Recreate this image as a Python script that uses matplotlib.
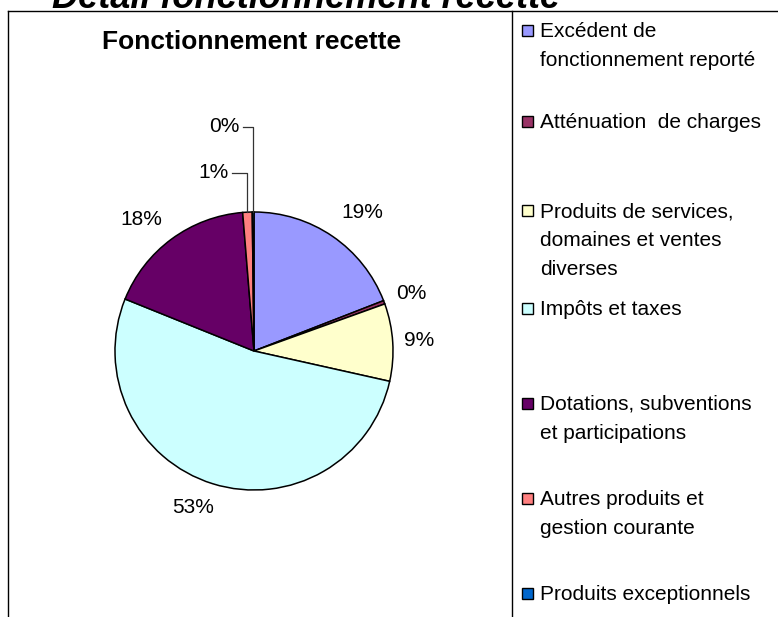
import numpy as np
import matplotlib.pyplot as plt
from matplotlib.patches import Rectangle
from matplotlib.lines import Line2D

plt.rcParams['font.family'] = ['Liberation Sans', 'DejaVu Sans']

# --- data
categories = ["Excédent de\nfonctionnement reporté",
              "Atténuation  de charges",
              "Produits de services,\ndomaines et ventes\ndiverses",
              "Impôts et taxes",
              "Dotations, subventions\net participations",
              "Autres produits et\ngestion courante",
              "Produits exceptionnels"]
shares = [19.1, 0.4, 9.0, 52.6, 17.6, 1.1, 0.2]
colors = ['#9999FF', '#993366', '#FFFFCC', '#CCFFFF', '#660066', '#FF8080', '#0066CC']

# figure is 778 x 617 px
W, H = 778, 617
fig = plt.figure(figsize=(W / 100, H / 100), dpi=100)

def fx(px):
    return px / W

def fy(py):
    return 1 - py / H

# pie centre (254, 351) px, radius 139 px
cx, cy, rad = 254, 351, 139
ax = fig.add_axes([fx(8), 0, fx(500) - fx(8), fy(12)])
wedges, _ = ax.pie(shares, colors=colors, startangle=90, counterclock=False,
                   wedgeprops=dict(edgecolor='black', linewidth=1.1))
ax.set_xlim((8 - cx) / rad, (500 - cx) / rad)
ax.set_ylim((cy - 617) / rad, (cy - 12) / rad)
ax.set_aspect('auto')
ax.axis('off')

pct = [int(s / sum(shares) * 100 + 0.5) for s in shares]

# label placement (data units, pie radius = 1)
label_pos = [(0.777, 1.0), (1.129, 0.417), (1.187, 0.079), (-0.439, -1.129),
             (-0.813, 0.946), None, None]
for i, p in enumerate(label_pos):
    if p is not None:
        ax.text(p[0], p[1], f"{pct[i]}%", ha='center', va='center', fontsize=15)

# small slices at the top: labels with leader lines
leader_pos = {5: (-0.180, 1.281), 6: (-0.101, 1.612)}
for i, (tx, ty) in leader_pos.items():
    w = wedges[i]
    th = np.deg2rad((w.theta1 + w.theta2) / 2)
    xm, ym = np.cos(th), np.sin(th)
    ax.text(tx, ty, f"{pct[i]}%", ha='right', va='center', fontsize=15)
    ax.plot([tx + 0.02, xm, xm], [ty, ty, ym], color='#333333', lw=0.9)

# chart titles (the big one is cut at the top edge, as in the original)
fig.text(fx(52), fy(8), "Détail fonctionnement recette", fontsize=26,
         fontweight='bold', fontstyle='italic', ha='left', va='baseline')
fig.text(fx(252), fy(49), "Fonctionnement recette", fontsize=19,
         fontweight='bold', ha='center', va='baseline')

# frame lines
fig.add_artist(Line2D([fx(8), fx(8)], [fy(11), 0], color='black', lw=1))
fig.add_artist(Line2D([fx(8), 1], [fy(11), fy(11)], color='black', lw=1))
fig.add_artist(Line2D([fx(512), fx(512)], [fy(11), 0], color='black', lw=1))

# legend
leg_base = [37, 128, 217, 315, 410, 505, 600]
line_step = 29
for i, lab in enumerate(categories):
    b = leg_base[i]
    fig.add_artist(Rectangle((fx(522), fy(b - 1)), 11 / W, 11 / H,
                             transform=fig.transFigure, facecolor=colors[i],
                             edgecolor='black', lw=1))
    for k, line in enumerate(lab.split('\n')):
        fig.text(fx(540), fy(b + k * line_step), line, fontsize=15,
                 ha='left', va='baseline')

fig.savefig('out.png', dpi=100)
